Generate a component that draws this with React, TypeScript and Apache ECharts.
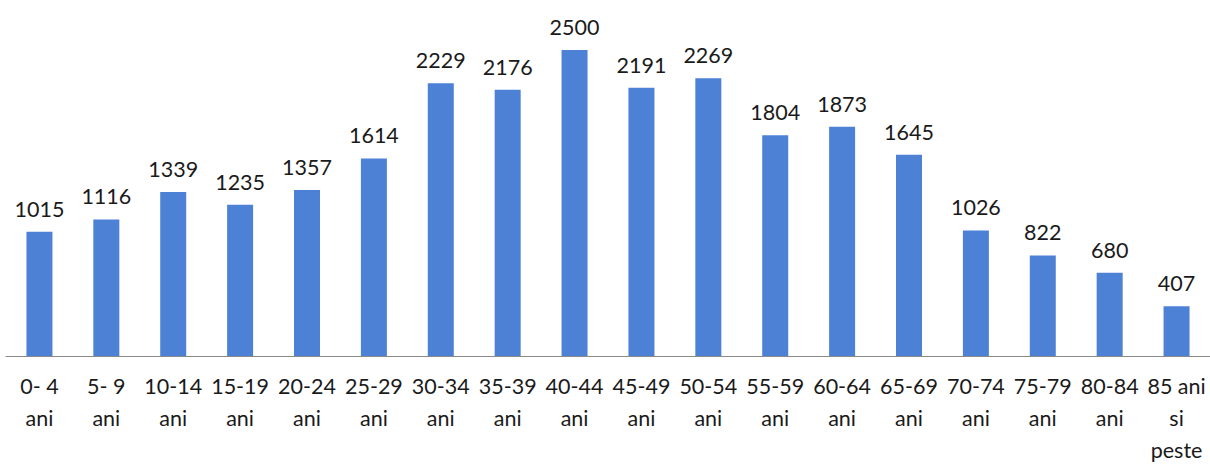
import React, { useEffect, useRef } from "react";
import * as echarts from "echarts";

const categories = [
  "0- 4\nani", "5- 9\nani", "10-14\nani", "15-19\nani", "20-24\nani", "25-29\nani",
  "30-34\nani", "35-39\nani", "40-44\nani", "45-49\nani", "50-54\nani", "55-59\nani",
  "60-64\nani", "65-69\nani", "70-74\nani", "75-79\nani", "80-84\nani", "85 ani\nsi\npeste",
];
const values = [1015, 1116, 1339, 1235, 1357, 1614, 2229, 2176, 2500, 2191, 2269, 1804, 1873, 1645, 1026, 822, 680, 407];

export default function App() {
  const ref = useRef<HTMLDivElement>(null);
  useEffect(() => {
    if (!ref.current) return;
    const chart = echarts.init(ref.current, null, { renderer: "svg" });
    chart.setOption({
      animation: false,
      backgroundColor: "#ffffff",
      grid: { left: 6, right: 0, top: 50, bottom: 105, containLabel: false },
      xAxis: {
        type: "category",
        data: categories,
        axisLine: { show: true, lineStyle: { color: "#8a8a8a", width: 1 } },
        axisTick: { show: false },
        axisLabel: {
          interval: 0,
          color: "#1a1a1a",
          fontFamily: "Lato",
          fontSize: 21.5,
          lineHeight: 32,
          margin: 14,
        },
      },
      yAxis: {
        type: "value",
        min: 0,
        max: 2500,
        show: false,
        splitLine: { show: false },
      },
      series: [
        {
          type: "bar",
          data: values,
          barWidth: 26,
          itemStyle: { color: "#4c81d6" },
          label: {
            show: true,
            position: "top",
            distance: 12,
            color: "#1a1a1a",
            fontFamily: "Lato",
            fontSize: 21.5,
          },
        },
      ],
    });
    return () => chart.dispose();
  }, []);
  return <div ref={ref} style={{ width: 1210, height: 466, position: "absolute", left: 0, top: 0 }} />;
}
